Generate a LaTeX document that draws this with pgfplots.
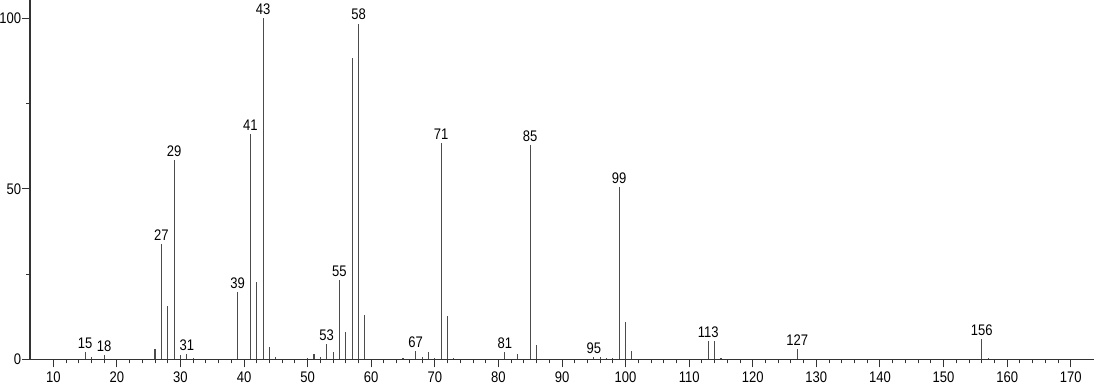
\documentclass[border=0pt]{standalone}
\usepackage{pgfplots}
\pgfplotsset{compat=1.18}
\usepackage{fontspec}
\setmainfont{Liberation Sans}[FakeStretch=0.85]
\begin{document}
\begin{tikzpicture}
\begin{axis}[
  scale only axis,
  width=798pt, height=269.5pt,
  xmin=6.34, xmax=173.66,
  ymin=0, ymax=105.4,
  axis x line=bottom, axis y line=left,
  axis line style={black!80, line width=0.8pt, -},
  xtick={10,20,...,170},
  minor x tick num=4,
  ytick={0,50,100},
  minor y tick num=1,
  tick align=outside,
  major tick length=6pt,
  minor tick length=3pt,
  tick style={black!80, line width=0.7pt},
  ticklabel style={font=\fontsize{11.5}{13}\selectfont, text=black, inner sep=0pt},
  xticklabel style={yshift=-3.3pt},
  yticklabel style={xshift=-0.5pt},
  /pgf/number format/assume math mode=true,
  clip=false,
]
\addplot[ycomb, black!70, line width=0.8pt, mark=none] coordinates {
(15,2.2) (16,0.8) (18,1.3) (26,2.9) (27,33.8) (28,15.6) (29,58.4) (30,1.3) (31,1.5) (32,0.3)
(39,19.8) (41,66.0) (42,22.8) (43,100) (44,3.6) (45,0.7) (50,0.3) (51,1.5) (52,0.8) (53,4.5)
(54,2.1) (55,23.3) (56,7.9) (57,88.3) (58,98.5) (59,13.0) (65,0.5) (67,2.5) (68,0.6) (69,2.1)
(70,0.5) (71,63.5) (72,12.7) (73,0.4) (81,2.1) (83,1.5) (85,62.8) (86,4.2) (95,0.6) (96,0.7)
(97,0.4) (98,0.5) (99,50.6) (100,10.9) (101,2.4) (113,5.3) (114,5.3) (115,0.3) (127,3.1)
(156,6.0) (157,0.4)
};
\addplot[draw=none, mark=none,
  nodes near coords={\pgfmathprintnumber[int detect]{\pgfplotspointmeta}},
  point meta=x,
  every node near coord/.style={anchor=south, inner sep=0pt, yshift=2.5pt,
    font=\fontsize{11.5}{13}\selectfont, text=black},
] coordinates {
(15,2.2) (18,1.3) (27,33.8) (29,58.4) (31,1.5) (39,19.8) (41,66.0) (43,100) (53,4.5)
(55,23.3) (58,98.5) (67,2.5) (71,63.5) (81,2.1) (85,62.8) (95,0.6) (99,50.6) (113,5.3)
(127,3.1) (156,6.0)
};
\end{axis}
\pgfresetboundingbox
\path[use as bounding box] ([xshift=-22.5pt,yshift=-18.5pt]current axis.south west) rectangle (current axis.north east);
\end{tikzpicture}
\end{document}
